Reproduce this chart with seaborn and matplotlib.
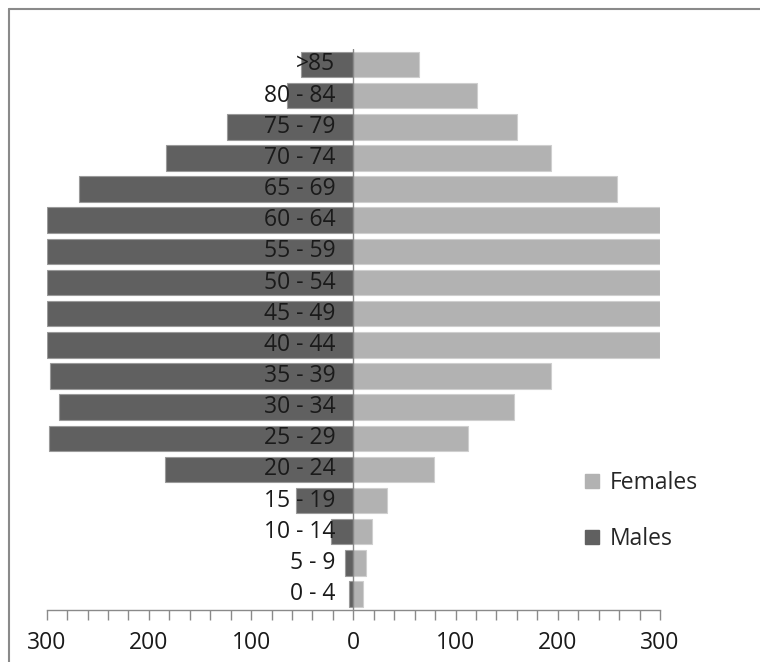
import matplotlib
matplotlib.use("Agg")
import matplotlib.pyplot as plt
import seaborn as sns
import pandas as pd
from matplotlib.lines import Line2D

ages = [">85", "80 - 84", "75 - 79", "70 - 74", "65 - 69", "60 - 64", "55 - 59",
        "50 - 54", "45 - 49", "40 - 44", "35 - 39", "30 - 34", "25 - 29",
        "20 - 24", "15 - 19", "10 - 14", "5 - 9", "0 - 4"]
males = [51, 65, 124, 183, 268, 300, 300, 300, 300, 300, 297, 288, 298, 184, 56, 22, 8, 4.5]
females = [64, 121, 160, 193, 258, 300, 300, 300, 300, 300, 193, 157, 112, 79, 33, 18, 12, 9]
xticks = [-300, -200, -100, 0, 100, 200, 300]
xticklabels = ["300", "200", "100", "0", "100", "200", "300"]

male_color = "#606060"
female_color = "#b2b2b2"

sns.set_style("white")
plt.rcParams['font.family'] = ['Open Sans', 'DejaVu Sans']

df = pd.DataFrame({"age": ages,
                   "males_neg": [-v for v in males],
                   "females": females})

fig = plt.figure(figsize=(7.6, 6.62), dpi=100)
ax = fig.add_axes([46.7 / 760, (662 - 609.6) / 662, 613.3 / 760, (609.6 - 48.9) / 662])

sns.barplot(data=df, y="age", x="females", order=ages, color=female_color,
            saturation=1, width=0.82, errorbar=None, ax=ax,
            edgecolor="#cfcfcf", linewidth=0.8, zorder=2)
sns.barplot(data=df, y="age", x="males_neg", order=ages, color=male_color,
            saturation=1, width=0.82, errorbar=None, ax=ax,
            edgecolor="#9a9a9a", linewidth=0.8, zorder=2)

ax.set_xlim(-300, 300)
ax.set_ylim(len(ages) - 0.5, -0.5)
ax.axvline(0, color="#888888", lw=1.0, zorder=3)

for i, lab in enumerate(ages):
    ax.annotate(lab, xy=(0, i), xytext=(-13, 0), textcoords="offset points",
                ha="right", va="center", fontsize=16.5, color="#1a1a1a", zorder=4)

ax.set_xticks(xticks)
ax.set_xticklabels(xticklabels)
ax.set_xticks(range(-300, 301, 20), minor=True)
ax.tick_params(axis="x", which="both", length=7, width=1, color="#8a8a8a",
               direction="out", pad=8.5, labelsize=16.5, labelcolor="#1a1a1a", bottom=True)
ax.set_yticks([])
ax.set_xlabel("")
ax.set_ylabel("")
for s in ["top", "right", "left"]:
    ax.spines[s].set_visible(False)
ax.spines["bottom"].set_color("#8a8a8a")
ax.spines["bottom"].set_linewidth(1)

handles = [Line2D([], [], marker="s", ls="", color=female_color, markersize=10),
           Line2D([], [], marker="s", ls="", color=male_color, markersize=10)]
fig.legend(handles, ["Females", "Males"], loc="center left",
           bbox_to_anchor=(583 / 760, (662 - 511) / 662), frameon=False,
           fontsize=16.5, labelspacing=1.4, handlelength=0.8, handletextpad=0.35,
           borderpad=0, borderaxespad=0)

# outer chart-area frame (left and top edges visible)
fig.add_artist(Line2D([9 / 760, 9 / 760], [0, 1 - 8.5 / 662], transform=fig.transFigure,
                      color="#8a8a8a", lw=1.5))
fig.add_artist(Line2D([9 / 760, 1], [1 - 8.5 / 662, 1 - 8.5 / 662], transform=fig.transFigure,
                      color="#8a8a8a", lw=1.5))

fig.savefig("out.png", dpi=100)
